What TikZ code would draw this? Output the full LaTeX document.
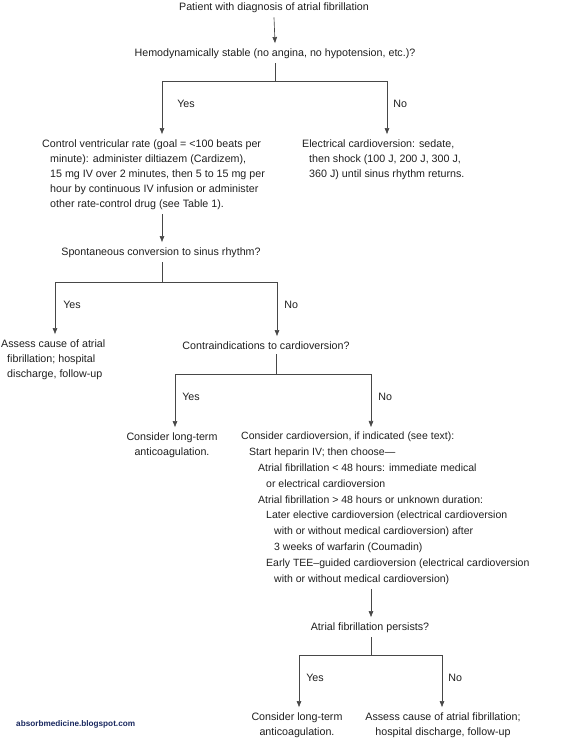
\documentclass[tikz,border=0pt]{standalone}
\usepackage{fontspec}
\setmainfont{Liberation Sans}
\usetikzlibrary{arrows.meta,positioning,calc}

\newcommand{\afsize}{\fontsize{10.7}{15}\selectfont}
\newcommand{\afsizewide}{\fontsize{10.5}{15.8}\selectfont}
\definecolor{afsite}{RGB}{25,40,95}

\begin{document}
\begin{tikzpicture}[x=1pt,y=-1pt,
    afbox/.style={text=black!88,font=\afsize,inner xsep=0pt,inner ysep=5pt},
    afleft/.style={afbox,align=left,anchor=base west},
    afmid/.style={afbox,align=center,anchor=base},
    afline/.style={draw=black!72,line width=0.65pt},
    afarrow/.style={afline,-{Triangle[width=4.5pt,length=6pt]}},
    aflabel/.style={text=black!88,font=\afsize,inner sep=0pt,pos=0.43}
]
\useasboundingbox (0,0) rectangle (561,739);
% multi-line nodes are placed by the baseline of their last line
\node[afmid] (patient) at (274,10) {Patient with diagnosis of atrial fibrillation};
\node[afmid] (stable) at (275,56)
    {Hemodynamically stable (no angina, no hypotension, etc.)?};
\node[afleft] (rate) at (42,207)
    {Control ventricular rate (goal = <100 beats per\\
     \hspace*{8pt}minute): administer diltiazem (Cardizem),\\
     \hspace*{8pt}15 mg IV over 2 minutes, then 5 to 15 mg per\\
     \hspace*{8pt}hour by continuous IV infusion or administer\\
     \hspace*{8pt}other rate-control drug (see Table 1).};
\node[afleft] (shock) at (302,177)
    {Electrical cardioversion: sedate,\\
     \hspace*{7pt}then shock (100 J, 200 J, 300 J,\\
     \hspace*{7pt}360 J) until sinus rhythm returns.};
\node[afmid] (spont) at (161,255) {Spontaneous conversion to sinus rhythm?};
\node[afleft] (assess) at (1,377)
    {Assess cause of atrial\\
     \hspace*{6pt}fibrillation; hospital\\
     \hspace*{6pt}discharge, follow-up};
\node[afmid] (contra) at (266,349) {Contraindications to cardioversion?};
\node[afmid] (anticoag) at (172,455) {Consider long-term\\anticoagulation.};
\node[afleft,font=\afsizewide] (cardio) at (241,582)
    {Consider cardioversion, if indicated (see text):\\
     \hspace*{8pt}Start heparin IV; then choose—\\
     \hspace*{17pt}Atrial fibrillation < 48 hours: immediate medical\\
     \hspace*{25pt}or electrical cardioversion\\
     \hspace*{17pt}Atrial fibrillation > 48 hours or unknown duration:\\
     \hspace*{25pt}Later elective cardioversion (electrical cardioversion\\
     \hspace*{33pt}with or without medical cardioversion) after\\
     \hspace*{33pt}3 weeks of warfarin (Coumadin)\\
     \hspace*{25pt}Early TEE–guided cardioversion (electrical cardioversion\\
     \hspace*{33pt}with or without medical cardioversion)};
\node[afmid] (persists) at (370,630) {Atrial fibrillation persists?};
\node[afmid] (anticoagb) at (297,735) {Consider long-term\\anticoagulation.};
\node[afmid] (assessb) at (443,735)
    {Assess cause of atrial fibrillation;\\hospital discharge, follow-up};
\node[anchor=base west,inner sep=0pt,text=afsite,font=\fontsize{8.2}{9}\selectfont\bfseries]
    (site) at (16,726) {absorbmedicine.blogspot.com};
% branch points
\coordinate (stableL) at (162,81);
\coordinate (stableR) at (387,81);
\coordinate (spontJ) at (162,282);
\coordinate (spontL) at (55,282);
\coordinate (spontR) at (277,282);
\coordinate (contraJ) at (276,374);
\coordinate (contraL) at (175,374);
\coordinate (contraR) at (371,374);
\coordinate (persistsJ) at (371,655);
\coordinate (persistsL) at (299,655);
\coordinate (persistsR) at (442,655);
\draw[afarrow] (patient.south)--(stable.north);
\draw[afline] (stable.south)--(stable.south |- stableL);
\draw[afline] (stableL)--(stableR);
\draw[afarrow] (stableL)--node[aflabel,right=15pt] {Yes}(stableL |- rate.north);
\draw[afarrow] (stableR)--node[aflabel,right=6pt] {No}(stableR |- shock.north);
\draw[afarrow] (rate.south -| stableL)--(spont.north -| stableL);
\draw[afline] (spont.south -| spontJ)--(spontJ);
\draw[afline] (spontL)--(spontR);
\draw[afarrow] (spontL)--node[aflabel,right=8pt] {Yes}(spontL |- assess.north);
\draw[afarrow] (spontR)--node[aflabel,right=7pt] {No}(spontR |- contra.north);
\draw[afline] (contra.south -| contraJ)--(contraJ);
\draw[afline] (contraL)--(contraR);
\draw[afarrow] (contraL)--node[aflabel,right=7pt] {Yes}(contraL |- anticoag.north);
\draw[afarrow] (contraR)--node[aflabel,right=7pt] {No}(contraR |- cardio.north);
\draw[afarrow] (cardio.south -| persistsJ)--(persists.north -| persistsJ);
\draw[afline] (persists.south -| persistsJ)--(persistsJ);
\draw[afline] (persistsL)--(persistsR);
\draw[afarrow] (persistsL)--node[aflabel,right=7pt] {Yes}(persistsL |- anticoagb.north);
\draw[afarrow] (persistsR)--node[aflabel,right=6pt] {No}(persistsR |- assessb.north);
\end{tikzpicture}
\end{document}
